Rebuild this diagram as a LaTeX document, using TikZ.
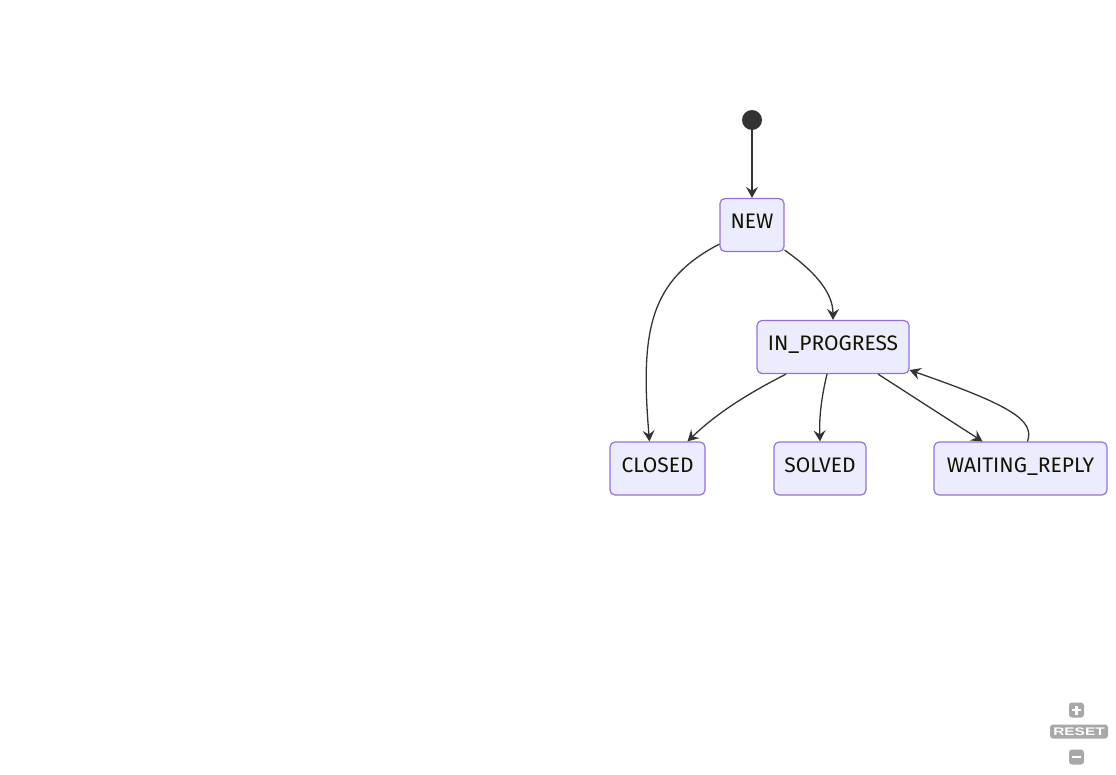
\documentclass[tikz,border=0pt]{standalone}
\usepackage{fontspec}
\usepackage{graphicx}
\setmainfont{Fira Sans}
\newfontfamily\btnfont{Liberation Sans}
\usetikzlibrary{arrows.meta,positioning}
\definecolor{stfill}{HTML}{ECECFF}
\definecolor{stdraw}{HTML}{9370DB}
\definecolor{sttext}{HTML}{131300}
\definecolor{edgegray}{HTML}{333333}
\definecolor{btngray}{HTML}{A8A8A8}

\begin{document}
\begin{tikzpicture}[
    x=1pt, y=-1pt,
    font=\fontsize{21}{24}\selectfont,
    state/.style={draw=stdraw, line width=1.2pt, fill=stfill, text=sttext, rounded corners=5pt,
      minimum height=53pt, inner xsep=10pt, text height=14.5pt, text depth=7pt},
    startdot/.style={circle, fill=edgegray, minimum size=20pt, inner sep=0pt},
    arrow/.style={-{Stealth[length=11pt,width=12pt,inset=4pt]}, line width=1.3pt, draw=edgegray},
    btn/.style={fill=btngray, text=white, rounded corners=3pt, inner sep=0pt,
      font=\btnfont\bfseries\fontsize{11}{12}\selectfont},
    btnmark/.style={draw=white, line width=2.6pt}
  ]
    \useasboundingbox (0,0) rectangle (1116,774);

    \node[startdot] (start) at (752,120) {};
    \node[state, minimum width=64pt] (new) at (752,225) {NEW};
    \node[state, minimum width=152pt] (inprogress) at (833,347) {IN\_PROGRESS};
    \node[state, minimum width=95pt] (closed) at (657.5,468.5) {CLOSED};
    \node[state, minimum width=92pt] (solved) at (820,468.5) {SOLVED};
    \node[state, minimum width=173pt] (waiting) at (1020.5,468.5) {WAITING\_REPLY};

    % zoom controls
    \node[btn, minimum width=15pt, minimum height=15pt] (zoomin) at (1076.5,710) {};
    \node[btn, minimum width=58pt, minimum height=14pt] (reset) at (1079,731.5) {\scalebox{1.4}[1]{RESET}};
    \node[btn, minimum width=15pt, minimum height=15pt] (zoomout) at (1076.5,757) {};
    \draw[btnmark] ([xshift=-4.5pt]zoomin.center) -- ([xshift=4.5pt]zoomin.center);
    \draw[btnmark] ([yshift=-4.5pt]zoomin.center) -- ([yshift=4.5pt]zoomin.center);
    \draw[btnmark] ([xshift=-4.5pt]zoomout.center) -- ([xshift=4.5pt]zoomout.center);

    \draw[arrow] (start) -- (new);
    \draw[arrow] ([yshift=8pt]new.south west) .. controls (650,280) and (640,330) .. ([xshift=-8pt]closed.north);
    \draw[arrow] ([yshift=2pt]new.south east) .. controls (810,268) and (833,290) .. (inprogress.north);
    \draw[arrow] ([xshift=-47pt]inprogress.south) .. controls (755,390) and (720,410) .. ([xshift=30pt]closed.north);
    \draw[arrow] ([xshift=-6pt]inprogress.south) .. controls (822,395) and (819,415) .. (solved.north);
    \draw[arrow] ([xshift=45pt]inprogress.south) -- ([xshift=-38pt]waiting.north);
    \draw[arrow] ([xshift=7pt]waiting.north) .. controls (1035,420) and (1010,405) .. ([yshift=4pt]inprogress.south east);
  \end{tikzpicture}
\end{document}
